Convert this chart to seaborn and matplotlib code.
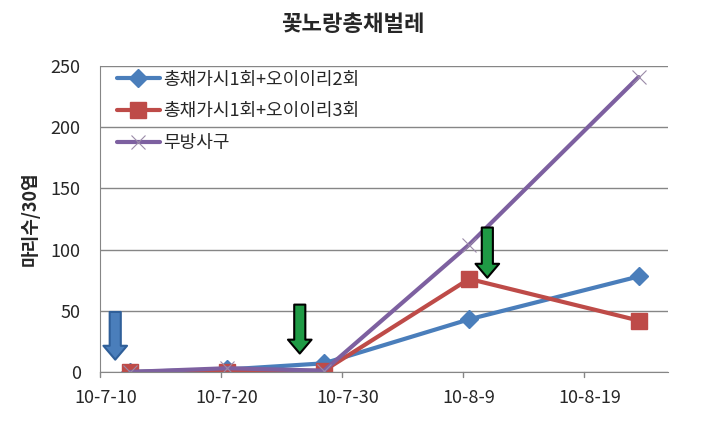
import matplotlib
matplotlib.use("Agg")
import matplotlib.pyplot as plt
import matplotlib.dates as mdates
import seaborn as sns
import pandas as pd

dates = pd.to_datetime(["2010-07-12", "2010-07-20", "2010-07-28", "2010-08-09", "2010-08-23"])
series_names = ["총채가시1회+오이이리2회", "총채가시1회+오이이리3회", "무방사구"]
treat_2 = [0, 2, 7, 43, 78]
treat_3 = [0, 0, 1, 76, 42]
control = [0, 3, 1, 104, 241]
tick_dates = pd.to_datetime(["2010-07-10", "2010-07-20", "2010-07-30", "2010-08-09", "2010-08-19"])
tick_labels = ["10-7-10", "10-7-20", "10-7-30", "10-8-9", "10-8-19"]

sns.set_style("white")
plt.rcParams['font.family'] = ['Noto Sans CJK KR', 'DejaVu Sans']

df = pd.DataFrame({"date": list(dates) * 3,
                   "value": treat_2 + treat_3 + control,
                   "series": [s for s in series_names for _ in dates]})
df["date"] = df["date"] + pd.Timedelta(hours=12)

fig = plt.figure(figsize=(7.05, 4.26), dpi=100)
ax = fig.add_axes([0.142, 0.127, 0.806, 0.718])

colors = ["#4A7EBB", "#BE4B48", "#7D60A0"]
markers = ["D", "s", "x"]
sizes = [9, 11, 10]
for name, c, m, ms in zip(series_names, colors, markers, sizes):
    sub = df[df["series"] == name]
    sns.lineplot(data=sub, x="date", y="value", ax=ax, color=c, marker=m,
                 markersize=ms, linewidth=3, label=name,
                 markeredgecolor=c if m != "x" else "#9a8aa8",
                 markeredgewidth=1 if m != "x" else 0.8)

ax.set_xlim(pd.Timestamp("2010-07-10"), pd.Timestamp("2010-08-25 23:00"))
ax.set_ylim(0, 250)
ax.set_yticks([0, 50, 100, 150, 200, 250])
ax.set_xticks(tick_dates + pd.Timedelta(hours=12))
ax.set_xticklabels(tick_labels)
ax.yaxis.grid(True, color="#868686", linewidth=1)
ax.set_axisbelow(True)
for s in ["top", "right"]:
    ax.spines[s].set_visible(False)
for s in ["left", "bottom"]:
    ax.spines[s].set_color("#868686")
ax.tick_params(axis="x", direction="out", length=0, labelsize=13, pad=12)
ax.tick_params(axis="y", length=0, labelsize=13, pad=14)
for d in tick_dates:
    ax.plot([d, d], [0, -4], color="#868686", lw=1, clip_on=False)
ax.set_xlabel("")
ax.set_ylabel("마리수/30엽", fontsize=13, fontweight="bold", labelpad=8)
fig.suptitle("꽃노랑총채벌레", fontsize=16, fontweight="bold", y=0.97)

leg = ax.legend(loc="upper left", frameon=False, fontsize=13, handlelength=2.4,
                handletextpad=0.15, labelspacing=0.75, borderaxespad=0.2,
                bbox_to_anchor=(0.01, 1.02))

# spraying arrows
arrows = [("2010-07-11 06:00", 49, 10, "#4A7EBB", "#2f5f99"),
          ("2010-07-26 12:00", 55, 15, "#1f9a45", "black"),
          ("2010-08-11 00:00", 118, 77, "#1f9a45", "black")]
for d, y0, y1, fc, ec in arrows:
    x = mdates.date2num(pd.Timestamp(d))
    ax.annotate("", xy=(x, y1), xytext=(x, y0),
                arrowprops=dict(arrowstyle="simple,head_width=1.7,head_length=1.0,tail_width=0.8",
                                fc=fc, ec=ec, lw=1.5, shrinkA=0, shrinkB=0))

plt.savefig("out.png", dpi=100)
plt.close()
